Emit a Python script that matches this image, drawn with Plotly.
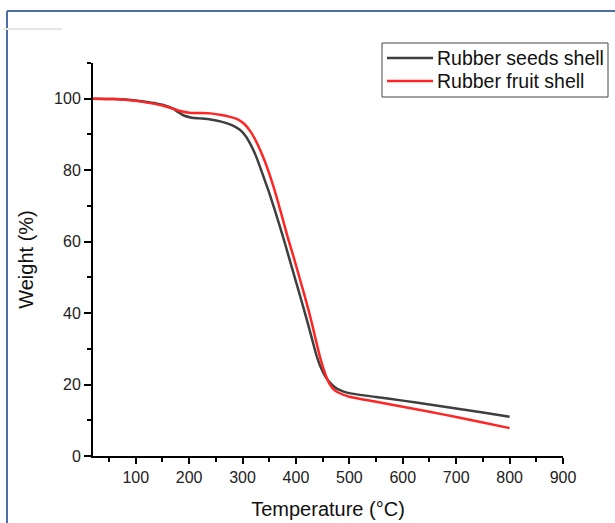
import plotly.graph_objects as go

temp_seeds = [20, 60, 100, 130, 150, 170, 180, 190, 205, 220, 240, 260, 280, 295, 305, 315, 325, 333, 342, 351, 360, 370, 380, 390, 400, 410, 420, 430, 438, 446, 455, 465, 475, 488, 500, 550, 600, 650, 700, 750, 800]
weight_seeds = [100, 99.9, 99.5, 98.9, 98.3, 97.2, 96.2, 95.3, 94.7, 94.5, 94.2, 93.6, 92.6, 91.3, 89.7, 87.2, 84.0, 80.8, 77.0, 73.2, 69.0, 64.2, 59.2, 54.0, 48.8, 43.6, 38.3, 32.8, 28.4, 25.0, 22.3, 20.3, 19.0, 18.1, 17.6, 16.5, 15.5, 14.4, 13.3, 12.2, 11.0]

temp_fruit = [20, 60, 100, 130, 150, 170, 185, 200, 220, 240, 258, 275, 290, 303, 315, 326, 336, 346, 356, 366, 374, 385, 395, 405, 415, 425, 432, 440, 447, 455, 462, 470, 480, 500, 550, 600, 650, 700, 750, 800]
weight_fruit = [100, 99.9, 99.4, 98.7, 98.1, 97.2, 96.5, 96.1, 96.0, 95.9, 95.5, 95.0, 94.3, 93.0, 90.8, 87.9, 84.6, 80.8, 76.3, 71.3, 67.0, 61.0, 56.0, 50.8, 45.5, 40.0, 35.8, 30.7, 26.6, 22.9, 20.4, 18.7, 17.7, 16.6, 15.2, 13.8, 12.4, 10.9, 9.4, 7.8]

series_names = ["Rubber seeds shell", "Rubber fruit shell"]
series_colors = ["#3f3f3f", "#ff2525"]

fig = go.Figure()
fig.add_trace(go.Scatter(x=temp_seeds, y=weight_seeds, mode="lines", name=series_names[0],
                         line=dict(color=series_colors[0], width=2.5, shape="spline", smoothing=0.6)))
fig.add_trace(go.Scatter(x=temp_fruit, y=weight_fruit, mode="lines", name=series_names[1],
                         line=dict(color=series_colors[1], width=2.5, shape="spline", smoothing=0.6)))

L, R, T, B = 93, 52, 63, 67
W, H = 615, 523
pw, ph = W - L - R, H - T - B

def px(xp):
    return (xp - L) / pw

def py(yp):
    return (H - B - yp) / ph

# manual legend (box, line samples, labels)
shapes = [
    dict(type="line", xref="paper", yref="paper", x0=px(7), x1=px(7), y0=py(11), y1=py(523),
         line=dict(color="#4a6fa5", width=2)),
    dict(type="line", xref="paper", yref="paper", x0=px(7), x1=px(615), y0=py(11), y1=py(11),
         line=dict(color="#4a6fa5", width=2)),
    dict(type="line", xref="paper", yref="paper", x0=px(3), x1=px(62), y0=py(29), y1=py(29),
         line=dict(color="#e6e6e6", width=2)),
    dict(type="rect", xref="paper", yref="paper", x0=px(382), x1=px(608), y0=py(43), y1=py(97),
         line=dict(color="#444444", width=1), fillcolor="white", layer="above"),
]
annotations = []
row_y = [58, 81]
for name, color, ry in zip(series_names, series_colors, row_y):
    shapes.append(dict(type="line", xref="paper", yref="paper", x0=px(387), x1=px(433),
                       y0=py(ry), y1=py(ry), line=dict(color=color, width=2.5), layer="above"))
    annotations.append(dict(xref="paper", yref="paper", x=px(435), y=py(ry), xanchor="left",
                            yanchor="middle", text=name, showarrow=False,
                            font=dict(size=19.5, color="#111111")))

fig.update_layout(
    width=W, height=H,
    margin=dict(l=L, r=R, t=T, b=B),
    paper_bgcolor="white", plot_bgcolor="white",
    font=dict(family="Liberation Sans, Arial, sans-serif", color="#222222"),
    showlegend=False,
    xaxis=dict(range=[20, 900], tick0=0, dtick=100, showgrid=False, zeroline=False,
               automargin=False,
               showline=True, linecolor="black", linewidth=2,
               ticks="outside", ticklen=6, tickwidth=2, tickcolor="black",
               tickfont=dict(size=16, color="#222222"),
               minor=dict(ticks="outside", dtick=50, tick0=0, ticklen=4, tickwidth=2, tickcolor="black"),
               title=dict(text="Temperature (°C)", font=dict(size=20, color="#111111"), standoff=17)),
    yaxis=dict(range=[0, 110], tick0=0, dtick=20, showgrid=False, zeroline=False,
               automargin=False,
               showline=True, linecolor="black", linewidth=2,
               ticks="outside", ticklen=7, tickwidth=2, tickcolor="black",
               tickfont=dict(size=16, color="#222222"),
               minor=dict(ticks="outside", dtick=10, tick0=0, ticklen=4, tickwidth=2, tickcolor="black"),
               title=dict(text="Weight (%)", font=dict(size=20, color="#111111"), standoff=15)),
    shapes=shapes,
    annotations=annotations,
)

fig.write_html("out.html", config={"displayModeBar": False},
               post_script="document.body.style.margin='0';")
